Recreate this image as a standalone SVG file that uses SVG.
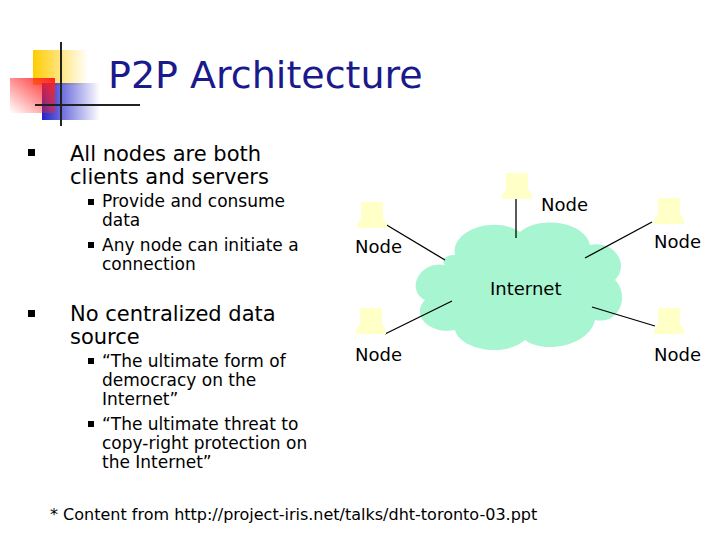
<svg xmlns="http://www.w3.org/2000/svg" width="720" height="540" viewBox="0 0 720 540">
<defs>
<linearGradient id="gy" x1="0" x2="1"><stop offset="0" stop-color="#ffcc00"/><stop offset="1" stop-color="#ffcc00" stop-opacity="0"/></linearGradient>
<linearGradient id="gr" x1="1" x2="0" y1="0" y2="1"><stop offset="0" stop-color="#ff2020"/><stop offset="1" stop-color="#ff2020" stop-opacity="0"/></linearGradient>
<linearGradient id="gb" x1="0" x2="1"><stop offset="0" stop-color="#2222cc"/><stop offset="1" stop-color="#2222cc" stop-opacity="0"/></linearGradient>
<g id="pc"><path d="M4 0 H26 V16 L30 22 V26 H0 V22 L4 16 Z" fill="#ffffc8"/></g>
</defs>
<style>
text{font-family:"DejaVu Sans",sans-serif;fill:#000}
.t1{font-size:21px}.t2{font-size:17px}.n{font-size:18px}
.b{fill:#000}
.c line{stroke:#000;stroke-width:1.3}
</style>
<rect width="720" height="540" fill="#fff"/>
<g id="logo">
<rect x="33" y="50" width="55" height="35" fill="url(#gy)"/>
<rect x="42" y="83" width="58" height="37" fill="url(#gb)"/>
<rect x="10" y="78" width="45" height="35" fill="url(#gr)"/>
<line x1="61" y1="42" x2="61" y2="126" stroke="#222" stroke-width="2"/>
<line x1="35" y1="105" x2="140" y2="105" stroke="#222" stroke-width="2"/>
</g>
<text x="108" y="88" style="font-size:38px;fill:#1a1a8c">P2P Architecture</text>
<g id="bullets">
<rect x="28" y="149" width="7" height="7" class="b"/>
<text x="70" y="161" class="t1">All nodes are both</text>
<text x="70" y="184" class="t1">clients and servers</text>
<rect x="88" y="199" width="6" height="6" class="b"/>
<text x="102" y="207" class="t2">Provide and consume</text>
<text x="102" y="226" class="t2">data</text>
<rect x="88" y="242" width="6" height="6" class="b"/>
<text x="102" y="251" class="t2">Any node can initiate a</text>
<text x="102" y="270" class="t2">connection</text>
<rect x="28" y="310" width="7" height="7" class="b"/>
<text x="70" y="321" class="t1">No centralized data</text>
<text x="70" y="344" class="t1">source</text>
<rect x="88" y="358" width="6" height="6" class="b"/>
<text x="102" y="367" class="t2">“The ultimate form of</text>
<text x="102" y="386" class="t2">democracy on the</text>
<text x="102" y="405" class="t2">Internet”</text>
<rect x="88" y="421" width="6" height="6" class="b"/>
<text x="102" y="430" class="t2">“The ultimate threat to</text>
<text x="102" y="449" class="t2">copy-right protection on</text>
<text x="102" y="468" class="t2">the Internet”</text>
</g>
<g id="internet">
<path d="M455 255 C450 230 495 215 520 232 C540 215 585 222 590 245 C615 240 630 265 615 280 C630 295 620 325 595 320 C590 345 545 355 525 340 C505 358 460 350 455 330 C430 335 410 315 425 300 C405 290 420 260 445 265 C440 258 448 255 455 255 Z" fill="#a8f5d2"/>
<text x="490" y="295" class="n">Internet</text>
</g>
<g class="c" id="connectors">
<line x1="516" y1="198" x2="516" y2="238"/>
<line x1="385" y1="224" x2="445" y2="260"/>
<line x1="652" y1="222" x2="585" y2="258"/>
<line x1="385" y1="334" x2="452" y2="301"/>
<line x1="592" y1="307" x2="655" y2="326"/>
</g>
<g id="node-top"><use href="#pc" x="502" y="173"/><text x="541" y="211" class="n">Node</text></g>
<g id="node-left"><use href="#pc" x="357" y="202"/><text x="355" y="253" class="n">Node</text></g>
<g id="node-right"><use href="#pc" x="654" y="198"/><text x="654" y="248" class="n">Node</text></g>
<g id="node-bl"><use href="#pc" x="356" y="308"/><text x="355" y="361" class="n">Node</text></g>
<g id="node-br"><use href="#pc" x="654" y="308"/><text x="654" y="361" class="n">Node</text></g>
<text x="50" y="520" style="font-size:16px">* Content from http://project-iris.net/talks/dht-toronto-03.ppt</text>
</svg>
